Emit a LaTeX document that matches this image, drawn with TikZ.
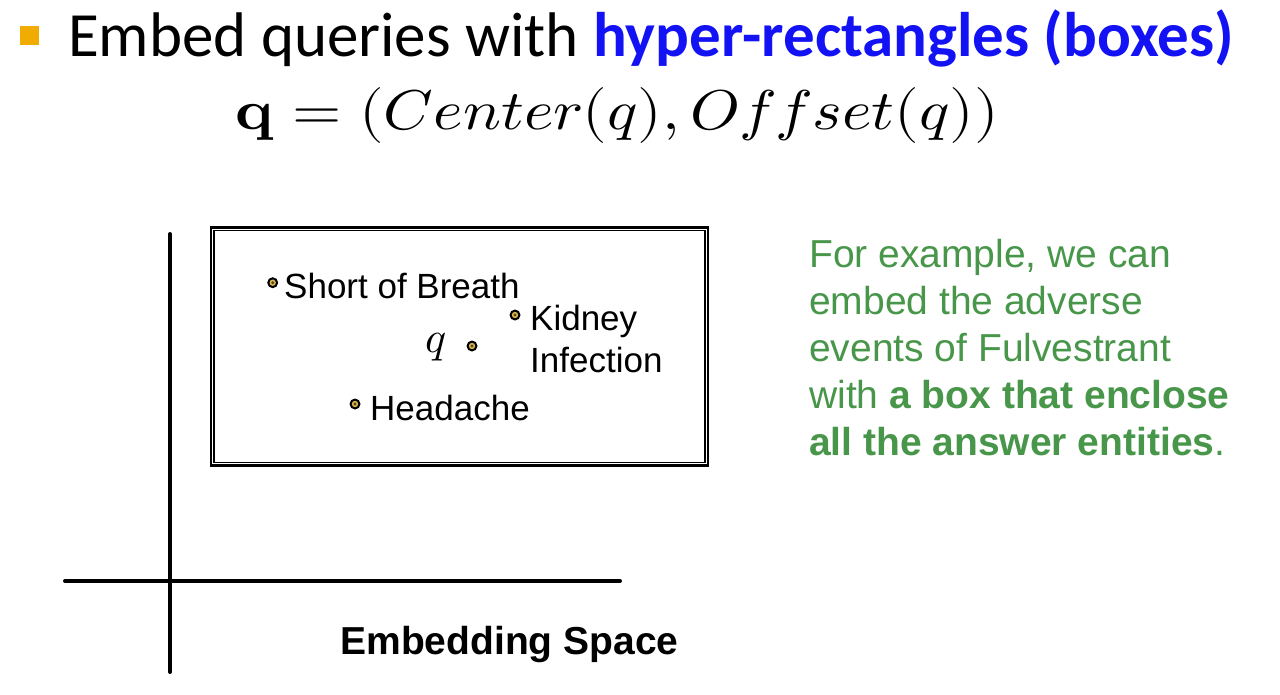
\documentclass[tikz,border=0pt]{standalone}
\usepackage{fontspec}
\usepackage{unicode-math}
\setmainfont{Liberation Sans}
\setmathfont{Latin Modern Math}
\newfontfamily\calibri{Carlito}
\definecolor{bulletor}{RGB}{240,172,0}
\definecolor{titleblue}{RGB}{18,18,245}
\definecolor{notegreen}{RGB}{72,150,74}
\definecolor{dotyellow}{RGB}{214,180,80}
\definecolor{dotdark}{RGB}{90,70,20}
\tikzset{
  entdot/.style={circle, fill=black, minimum size=11pt, inner sep=0pt,
    path picture={
      \fill[dotyellow] (path picture bounding box.center) circle (3.2pt);
      \fill[dotdark] (path picture bounding box.center) circle (1.6pt);
    }},
  lbl/.style={anchor=base west, inner sep=0pt, font=\fontsize{35}{42}\selectfont},
  axisline/.style={line width=4pt, line cap=round},
}
\begin{document}
\begin{tikzpicture}[x=1pt,y=-1pt]
\useasboundingbox (0,0) rectangle (1280,694);
% bullet and title
\node[fill=bulletor, minimum size=19pt, inner sep=0pt] (bullet) at (29,35) {};
\node[anchor=base west, inner sep=0pt, font=\calibri\fontsize{63}{66}\selectfont] (title) at (68,56)
  {Embed queries with \textcolor{titleblue}{\bfseries hyper-rectangles (boxes)}};
\node[anchor=base, inner sep=0pt, font=\fontsize{56}{60}\selectfont] (formula) at (617,129)
  {\scalebox{1.13}[1]{$\symbf{q}=(Center(q),Offset(q))$}};
% axes
\coordinate (ytop) at (170,234);
\coordinate (ybot) at (170,672);
\coordinate (xl) at (65,581);
\coordinate (xr) at (620,581);
\draw[axisline] (ytop) -- (ybot);
\draw[axisline] (xl) -- (xr);
% box
\node[draw, line width=2.8pt, minimum width=497pt, minimum height=238pt, inner sep=0pt] (box) at (459.5,346.5) {};
\draw[line width=1.4pt] ([shift={(4.5pt,-4.5pt)}]box.north west) rectangle ([shift={(-4.5pt,4.5pt)}]box.south east);
% entities
\node[entdot] (sob) at (272.7,282.7) {};
\node[lbl] (sobl) at (284,298) {Short of Breath};
\node[entdot] (kid) at (515,315) {};
\node[lbl, align=left] (kidl) at (530,372) {Kidney\\Infection};
\node[entdot] (qd) at (472,346) {};
\node[anchor=base west, inner sep=0pt, font=\fontsize{44}{48}\selectfont] (ql) at (425,352) {$q$};
\node[entdot] (hd) at (355,404) {};
\node[lbl] (hdl) at (370,420) {Headache};
% embedding space label
\node[anchor=base, inner sep=0pt, font=\bfseries\fontsize{39}{44}\selectfont] (es) at (509.5,654) {Embedding Space};
% note
\node[anchor=base west, inner sep=0pt, align=left, text=notegreen, font=\fontsize{39}{47}\selectfont] (note) at (809,455)
  {For example, we can\\embed the adverse\\events of Fulvestrant\\with \textbf{a box that enclose}\\\textbf{all the answer entities}.};
\end{tikzpicture}
\end{document}
